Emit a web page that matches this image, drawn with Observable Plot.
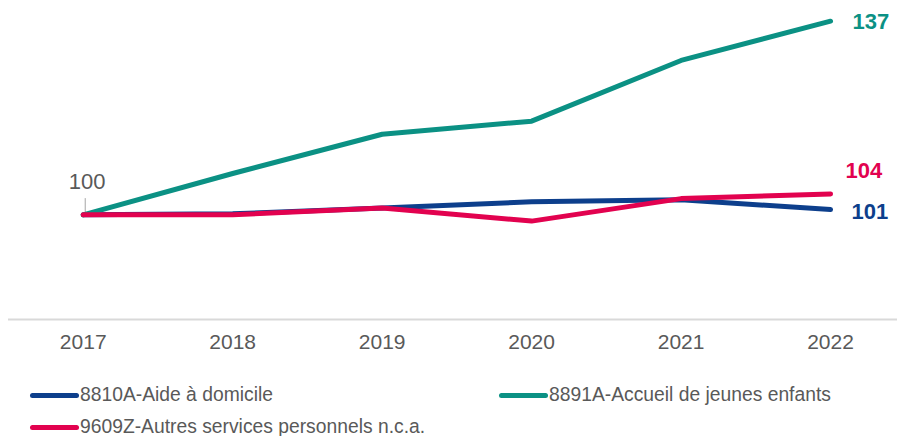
<!DOCTYPE html>
<html>
<head>
<meta charset="utf-8">
<script src="https://cdn.jsdelivr.net/npm/d3@7"></script>
<script src="https://cdn.jsdelivr.net/npm/@observablehq/plot@0.6"></script>
<style>
  html, body { margin: 0; padding: 0; background: #fff; }
  body { width: 897px; height: 436px; overflow: hidden; font-family: "Liberation Sans", Arial, sans-serif; }
  #chart svg { display: block; }
  #legend { position: relative; height: 70px; }
  .item { position: absolute; display: flex; align-items: center; height: 22px; line-height: 22px; font-size: 19.3px; color: #595959; white-space: nowrap; }
  .sw { display: inline-block; width: 49px; height: 5px; border-radius: 3px; margin-right: 1px; }
</style>
</head>
<body>
<div id="chart"></div>
<div id="legend"></div>
<script>
const years = [2017, 2018, 2019, 2020, 2021, 2022];
const seriesNames = ["8810A-Aide à domicile", "8891A-Accueil de jeunes enfants", "9609Z-Autres services personnels n.c.a."];
const aideDomicile = [100, 100.2, 101.3, 102.5, 102.9, 101];
const accueilEnfants = [100, 107.9, 115.4, 117.9, 129.5, 137];
const autresServices = [100, 100, 101.3, 98.8, 103.1, 104];
const endLabels = ["101", "137", "104"];
const startLabel = "100";
const colors = ["#0d3f8c", "#0b9184", "#e2024f"];

const allValues = [aideDomicile, accueilEnfants, autresServices];
const data = [];
seriesNames.forEach((s, i) => years.forEach((y, j) => data.push({series: s, year: y, value: allValues[i][j]})));
const last = seriesNames.map((s, i) => ({series: s, year: years[years.length - 1], value: allValues[i][years.length - 1], label: endLabels[i]}));
const first = [{year: years[0], value: allValues[0][0], label: startLabel}];

const color = {domain: seriesNames, range: colors};
const endText = (i, dx, dy) => Plot.text([last[i]], {
  x: "year", y: "value", text: "label", fill: colors[i],
  dx, dy, textAnchor: "start", fontSize: 22, fontWeight: "bold"
});

const chart = Plot.plot({
  width: 897,
  height: 366,
  marginTop: 5,
  marginBottom: 47,
  marginLeft: 8,
  marginRight: 0,
  style: {fontFamily: "'Liberation Sans', Arial, sans-serif", background: "#fff"},
  x: {type: "linear", domain: [2016.5, 2022.448], axis: null},
  y: {domain: [80, 140], axis: null},
  color,
  marks: [
    Plot.ruleY([80], {stroke: "#d9d9d9", strokeWidth: 2}),
    Plot.axisX(years, {tickSize: 0, tickPadding: 15, tickFormat: d => String(d), fontSize: 21, fill: "#595959", label: null}),
    Plot.ruleX(first, {x: "year", y1: "value", y2: d => d.value + 3.1, dx: 2, stroke: "#a6a6a6", strokeWidth: 1}),
    Plot.text(first, {x: "year", y: "value", text: "label", dx: 4, dy: -33, fontSize: 22, fill: "#595959"}),
    Plot.line(data, {x: "year", y: "value", z: "series", stroke: "series", strokeWidth: 5, strokeLinecap: "round", strokeLinejoin: "round"}),
    endText(0, 21, 2),
    endText(1, 22, 1),
    endText(2, 15, -23)
  ]
});
document.getElementById("chart").append(chart);

const legend = document.getElementById("legend");
const pos = [[30, 18], [499, 18], [30, 50]];
seriesNames.forEach((s, i) => {
  const el = document.createElement("div");
  el.className = "item";
  el.style.left = pos[i][0] + "px";
  el.style.top = pos[i][1] + "px";
  el.innerHTML = `<span class="sw" style="background:${colors[i]}"></span><span>${s}</span>`;
  legend.append(el);
});
</script>
</body>
</html>
